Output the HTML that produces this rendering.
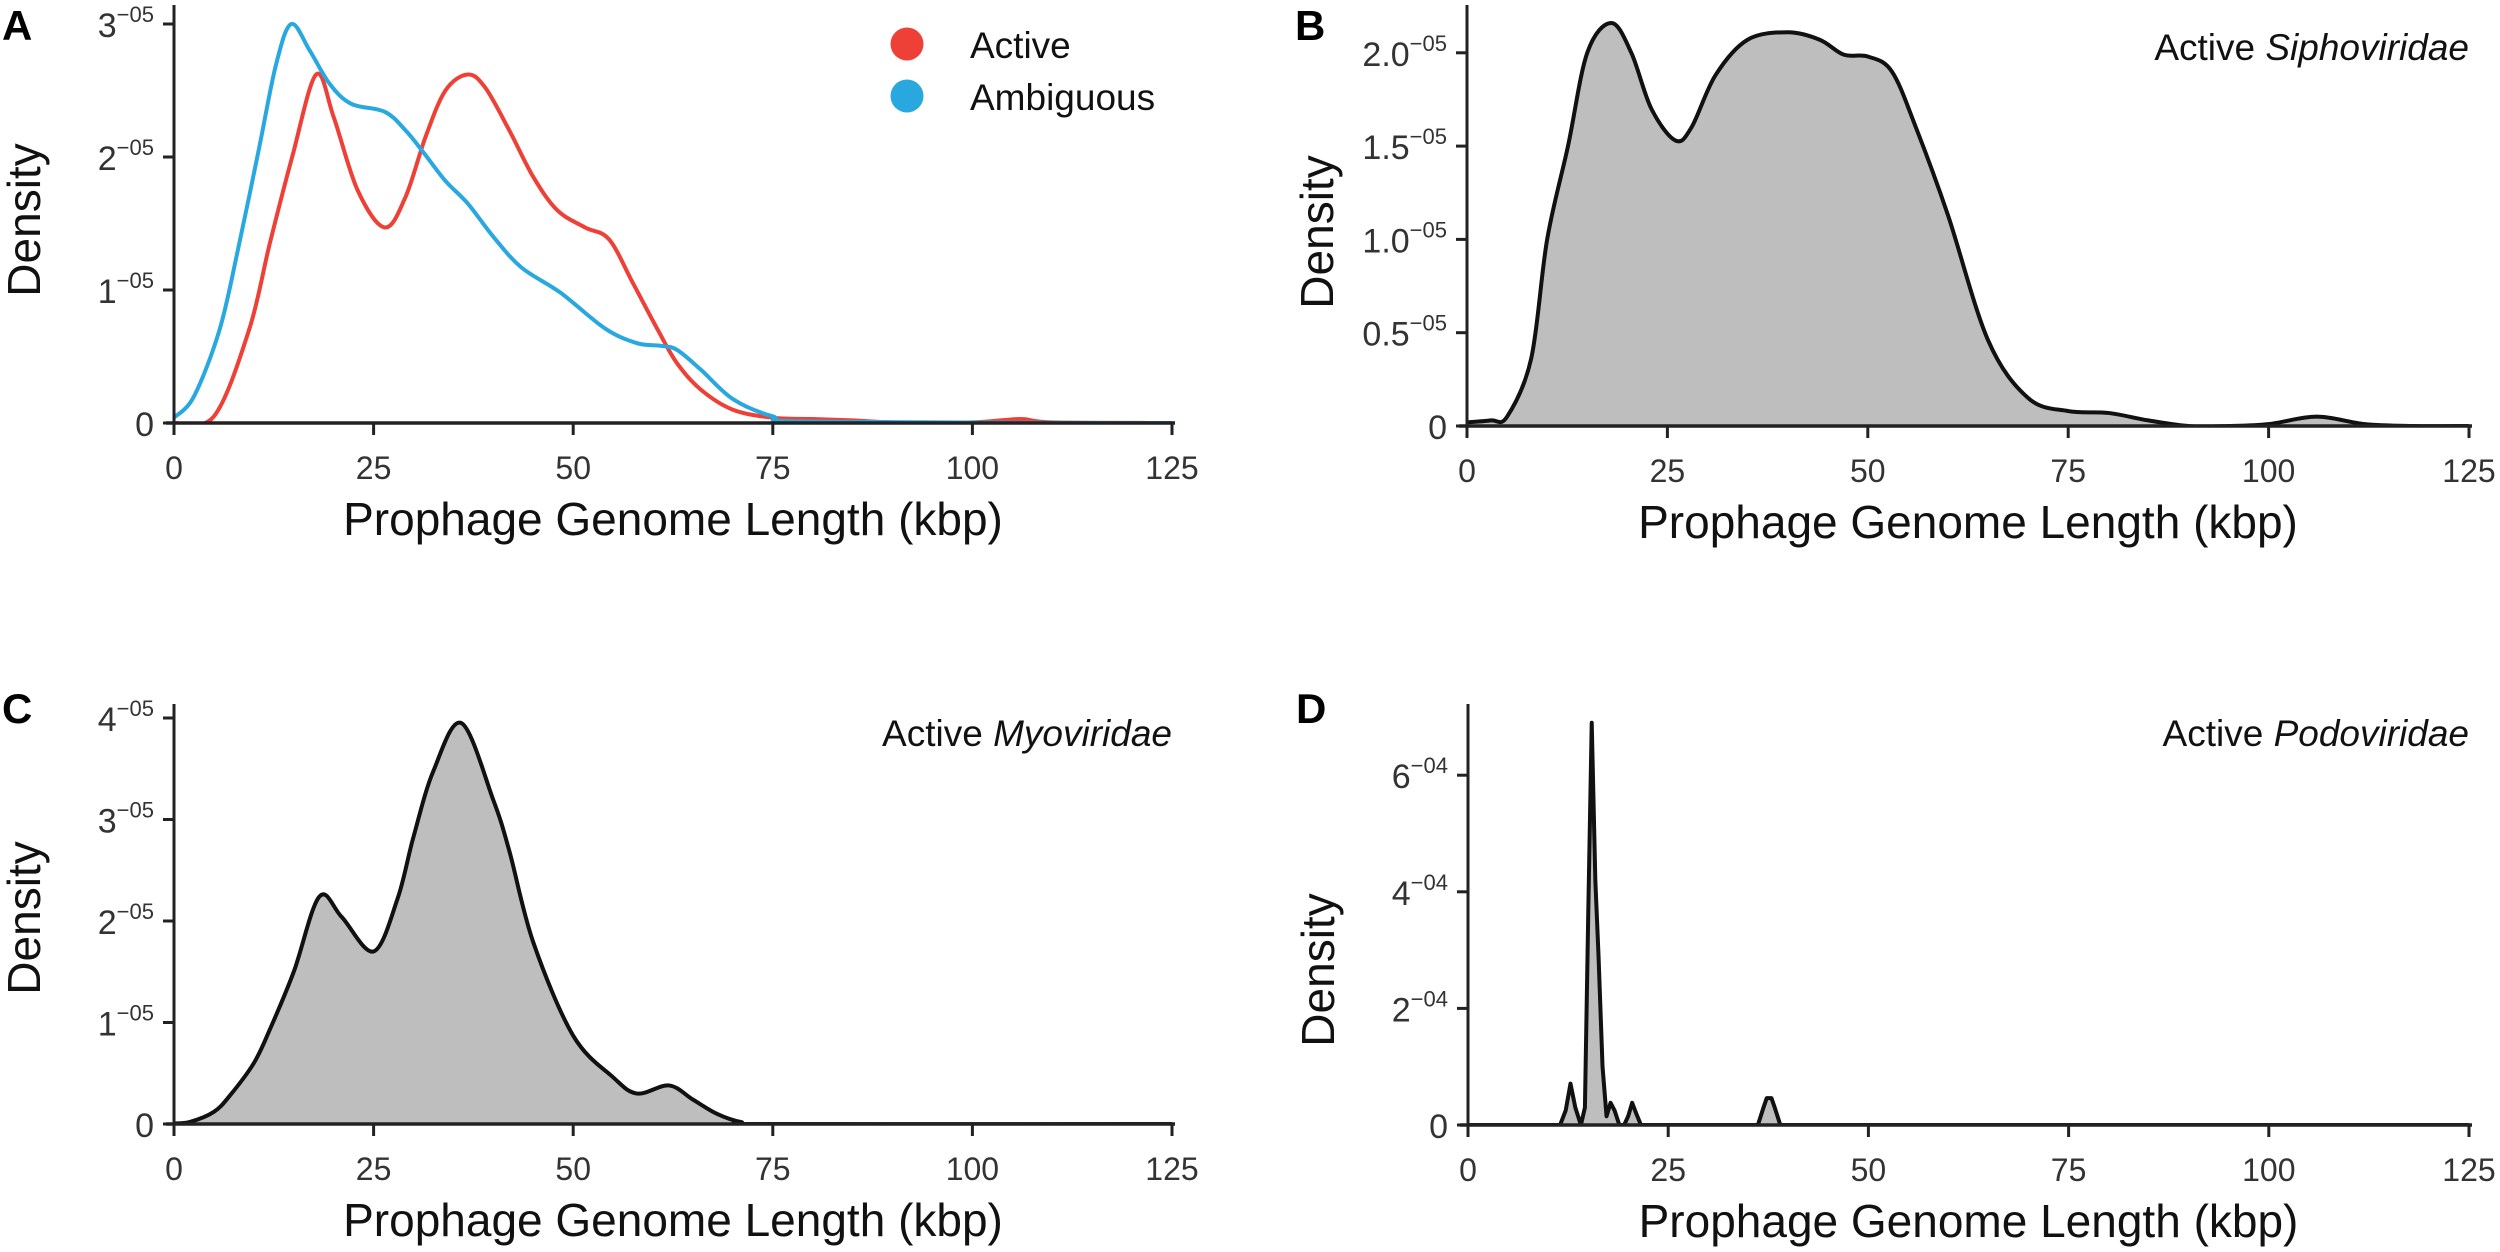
<!DOCTYPE html>
<html><head><meta charset="utf-8"><style>
html,body{margin:0;padding:0;background:#fff;}
svg{display:block;font-family:"Liberation Sans",sans-serif;}
</style></head><body>
<svg id="chart" xmlns="http://www.w3.org/2000/svg" width="2500" height="1252" viewBox="0 0 2500 1252"></svg>
<script>
// ---- data (density values: A,B,C in 1e-5 units, D in 1e-4 units; x in kbp) ----
const xTicks = [0, 25, 50, 75, 100, 125];
const xTickLabels = ["0", "25", "50", "75", "100", "125"];

const activeX = [0,5,9.4,12,14.8,17.8,20,23,26.4,29,31.5,34,36.8,39,42,45,48,51.5,54.5,57.5,60.6,63,66,70,75,80,85,90,100,106,110,125];
const activeY = [0,0.05,0.7,1.35,2.0,2.62,2.3,1.75,1.47,1.7,2.15,2.5,2.62,2.52,2.2,1.85,1.6,1.47,1.38,1.05,0.7,0.45,0.25,0.1,0.04,0.03,0.02,0.005,0.005,0.03,0.005,0];
const ambigX = [0,2.5,5.7,8,10.6,12.8,14.7,17,19.5,22.2,26.4,29,31.3,34,36.8,40,43.5,48.4,54,58,61,63,66,70,75,80,125];
const ambigY = [0.04,0.2,0.7,1.3,2.05,2.7,3.0,2.8,2.55,2.4,2.34,2.2,2.03,1.82,1.65,1.4,1.17,0.98,0.71,0.6,0.58,0.55,0.4,0.18,0.05,0.01,0];

const sipX = [0,3,5,8,10,12.6,15,18,20.5,23,26,28,31,35,40,44,47,50,53,56,60,65,70,75,80,85,90,95,100,106,112,118,125];
const sipY = [0.02,0.03,0.05,0.36,1.0,1.5,2.0,2.16,2.0,1.7,1.53,1.6,1.88,2.07,2.11,2.07,1.99,1.98,1.9,1.6,1.13,0.46,0.15,0.08,0.07,0.03,0.0,0.0,0.01,0.05,0.01,0,0];

const myoX = [0,2,5,7,10,12,15,18.2,21,25,28,30,32.5,36,40,42,45,50,55,58,62,65,68,71,75,125];
const myoY = [0.005,0.02,0.12,0.28,0.6,0.93,1.5,2.24,2.04,1.7,2.22,2.83,3.48,3.95,3.19,2.69,1.79,0.87,0.46,0.3,0.38,0.24,0.1,0.02,0,0];

const podoX = [0,11.5,12.2,12.8,13.4,14.1,14.6,15.0,15.45,15.9,16.3,16.8,17.3,17.8,18.3,18.9,19.5,20.0,20.5,21.0,21.6,36.2,36.9,37.3,37.9,38.3,39.0,125];
const podoY = [0,0,0.25,0.71,0.3,0,0.3,3.5,6.9,4.2,2.9,1.0,0.15,0.38,0.25,0,0,0.15,0.38,0.2,0,0,0.3,0.46,0.46,0.3,0,0];

const ticksA = [0,1,2,3];      const tickLabA = ["0","1","2","3"];     const expA = "−05";
const ticksB = [0,0.5,1,1.5,2]; const tickLabB = ["0","0.5","1.0","1.5","2.0"]; const expB = "−05";
const ticksC = [0,1,2,3,4];    const tickLabC = ["0","1","2","3","4"]; const expC = "−05";
const ticksD = [0,2,4,6];      const tickLabD = ["0","2","4","6"];     const expD = "−04";

// ---- rendering ----
const NS = "http://www.w3.org/2000/svg";
const svg = document.getElementById("chart");
const defs = document.createElementNS(NS, "defs");
svg.appendChild(defs);
function mk(tag, attrs, parent){
  const e = document.createElementNS(NS, tag);
  for (const k in attrs) e.setAttribute(k, attrs[k]);
  (parent || svg).appendChild(e);
  return e;
}
function smoothPath(pts){
  let d = "M" + pts[0][0].toFixed(2) + "," + pts[0][1].toFixed(2);
  for (let i = 0; i < pts.length - 1; i++){
    const p0 = pts[Math.max(0,i-1)], p1 = pts[i], p2 = pts[i+1], p3 = pts[Math.min(pts.length-1,i+2)];
    const c1x = p1[0] + (p2[0]-p0[0])/6, c1y = p1[1] + (p2[1]-p0[1])/6;
    const c2x = p2[0] - (p3[0]-p1[0])/6, c2y = p2[1] - (p3[1]-p1[1])/6;
    d += " C" + c1x.toFixed(2) + "," + c1y.toFixed(2) + " " + c2x.toFixed(2) + "," + c2y.toFixed(2) + " " + p2[0].toFixed(2) + "," + p2[1].toFixed(2);
  }
  return d;
}
function linePath(pts){
  return "M" + pts.map(p => p[0].toFixed(2) + "," + p[1].toFixed(2)).join(" L");
}

let clipN = 0;
function panel(cfg){
  const g = mk("g", {});
  
  
  const sx = v => cfg.x0 + (cfg.x125 - cfg.x0) * v / 125;
  const sy = v => cfg.y0 - v * cfg.unit;
  const cid = "clip" + (clipN++);
  const cp = mk("clipPath", {id: cid}, defs);
  mk("rect", {x: cfg.x0, y: 0, width: sx(125) - cfg.x0 + 5, height: cfg.y0}, cp);
  const pg = mk("g", {"clip-path": "url(#" + cid + ")"}, g);
  cfg.series.forEach(s => {
    const pts = s.xs.map((x, i) => [sx(x), sy(s.ys[i])]);
    const d = s.linear ? linePath(pts) : smoothPath(pts);
    if (s.fill){
      const a = mk("path", {d: d + " L" + sx(125) + "," + cfg.y0 + " L" + sx(0) + "," + cfg.y0 + " Z", fill: "#bebebe", stroke: "none"}, pg);
      
      
    }
    const l = mk("path", {d: d, fill: "none", stroke: s.color, "stroke-width": 4, "stroke-linejoin": "round"}, pg);
    
    
  });
  const ya = mk("line", {x1: cfg.x0, y1: cfg.top, x2: cfg.x0, y2: cfg.y0 + 1.5, stroke: "#222", "stroke-width": 3}, g);
  
  
  const xa = mk("line", {x1: cfg.x0 - 8, y1: cfg.y0, x2: sx(125) + 3, y2: cfg.y0, stroke: "#222", "stroke-width": 3.5}, g);
  
  
  xTicks.forEach((t, i) => {
    mk("line", {x1: sx(t), y1: cfg.y0, x2: sx(t), y2: cfg.y0 + 12, stroke: "#222", "stroke-width": 3}, g);
    const tx = mk("text", {x: sx(t), y: cfg.y0 + 56, "font-size": 32, fill: "#333", "text-anchor": "middle"}, g);
    tx.textContent = xTickLabels[i];
    
    
  });
  cfg.yt.forEach((t, i) => {
    const y = sy(t);
    mk("line", {x1: cfg.x0 - 11, y1: y, x2: cfg.x0, y2: y, stroke: "#222", "stroke-width": 3}, g);
    const tx = mk("text", {x: cfg.x0 - 20, y: y + 13, "font-size": 34, fill: "#333", "text-anchor": "end"}, g);
    
    
    if (t === 0){ tx.textContent = cfg.yl[i]; }
    else {
      const a = mk("tspan", {}, tx); a.textContent = cfg.yl[i];
      const b = mk("tspan", {"font-size": 22, dy: -15}, tx); b.textContent = cfg.exp;
    }
  });
  const yt = mk("text", {x: 0, y: 0, "font-size": 46, fill: "#111", "text-anchor": "middle", transform: "translate(" + (cfg.x0 - 134) + "," + cfg.ylabY + ") rotate(-90)"}, g);
  yt.textContent = "Density";
  
  
  const xt = mk("text", {x: (cfg.x0 + sx(125)) / 2, y: cfg.y0 + 112, "font-size": 46, fill: "#111", "text-anchor": "middle"}, g);
  xt.textContent = "Prophage Genome Length (kbp)";
  
  
  const lt = mk("text", {x: cfg.x0 - 172, y: cfg.letterY, "font-size": 42, "font-weight": "bold", fill: "#000"}, g);
  lt.textContent = cfg.letter;
  
  
  if (cfg.title){
    const tt = mk("text", {x: sx(125), y: cfg.titleY, "font-size": 37, fill: "#111", "text-anchor": "end"}, g);
    const a = mk("tspan", {}, tt); a.textContent = "Active ";
    const b = mk("tspan", {"font-style": "italic"}, tt); b.textContent = cfg.title;
    
    
  }
  return g;
}

panel({name: "panel-a", letter: "A", letterY: 40, x0: 174, x125: 1172, y0: 423, top: 5, unit: 133, yt: ticksA, yl: tickLabA, exp: expA, ylabY: 220,
  series: [{name: "active", xs: activeX, ys: activeY, color: "#ee4036"}, {name: "ambiguous", xs: ambigX, ys: ambigY, color: "#29a8e0"}]});
panel({name: "panel-b", letter: "B", letterY: 40, x0: 1467, x125: 2469, y0: 426, top: 5, unit: 186.6, yt: ticksB, yl: tickLabB, exp: expB, ylabY: 232, title: "Siphoviridae", titleY: 60,
  series: [{name: "siphoviridae", xs: sipX, ys: sipY, color: "#111", fill: true}]});
panel({name: "panel-c", letter: "C", letterY: 723, x0: 174, x125: 1172, y0: 1124, top: 704, unit: 101.5, yt: ticksC, yl: tickLabC, exp: expC, ylabY: 918, title: "Myoviridae", titleY: 746,
  series: [{name: "myoviridae", xs: myoX, ys: myoY, color: "#111", fill: true}]});
panel({name: "panel-d", letter: "D", letterY: 723, x0: 1468, x125: 2469, y0: 1125, top: 704, unit: 58.3, yt: ticksD, yl: tickLabD, exp: expD, ylabY: 970, title: "Podoviridae", titleY: 746,
  series: [{name: "podoviridae", xs: podoX, ys: podoY, color: "#111", fill: true, linear: true}]});

const leg = mk("g", {});


const c1 = mk("circle", {cx: 907, cy: 44, r: 16.5, fill: "#ee4036"}, leg);


const t1 = mk("text", {x: 970, y: 58, "font-size": 37, fill: "#111"}, leg);
t1.textContent = "Active";


const c2 = mk("circle", {cx: 907, cy: 96, r: 16.5, fill: "#29a8e0"}, leg);


const t2 = mk("text", {x: 970, y: 110, "font-size": 37, fill: "#111"}, leg);
t2.textContent = "Ambiguous";


</script>
</body></html>
